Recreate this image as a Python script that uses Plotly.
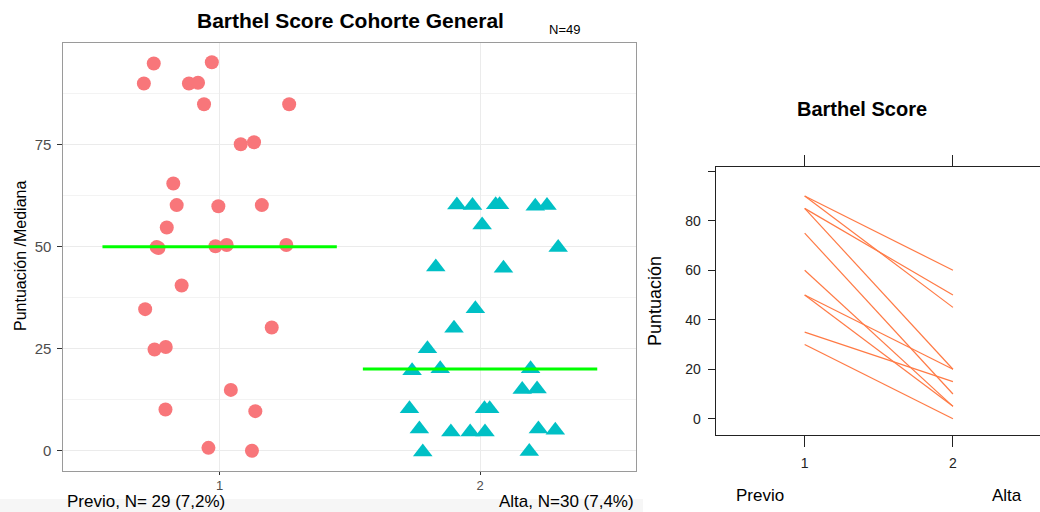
import plotly.graph_objects as go

# ---------------- data ----------------
# Left panel: jittered individual scores
previo_x = [0.747, 0.970, 0.709, 0.882, 0.917, 0.940, 1.267, 1.081, 1.132, 0.822,
            0.835, 0.995, 1.162, 0.797, 0.758, 0.765, 0.984, 1.027, 1.256, 0.854,
            0.714, 1.200, 0.750, 0.793, 1.043, 0.792, 1.137, 0.957, 1.124]
previo_y = [94.9, 95.2, 90.0, 90.0, 90.2, 84.9, 84.9, 75.1, 75.6, 65.5,
            60.2, 59.9, 60.2, 54.7, 49.9, 49.7, 50.1, 50.4, 50.4, 40.5,
            34.7, 30.2, 24.8, 25.4, 14.9, 10.1, 9.7, 0.7, 0.0]

alta_x = [1.911, 1.971, 2.060, 2.075, 2.212, 2.257, 2.008, 2.300, 1.830, 2.090,
          1.982, 1.900, 1.798, 1.739, 1.847, 2.194, 2.162, 2.219, 1.729, 2.017,
          2.037, 1.767, 1.888, 1.962, 2.019, 2.224, 2.289, 1.780, 2.189]
alta_y = [60.2, 60.1, 60.3, 60.3, 59.9, 60.1, 55.3, 49.8, 45.0, 44.7,
          34.8, 30.0, 25.0, 19.6, 20.1, 20.1, 15.0, 15.1, 10.3, 10.3,
          10.3, 5.3, 4.6, 4.6, 4.6, 5.3, 5.0, -0.3, -0.2]

median_groups = [1, 2]
median_values = [50, 20]

left_yticks = [0, 25, 50, 75]
left_xticks = [1, 2]

# Right panel: paired scores (Previo -> Alta)
pair_times = [1, 2]
pair_previo = [90, 90, 85, 85, 75, 60, 50, 50, 35, 30]
pair_alta = [60, 45, 50, 20, 10, 5, 20, 5, 15, 0]

right_yticks = [0, 20, 40, 60, 80, 100]
right_yticklabels = ["0", "20", "40", "60", "80", ""]

# ---------------- figure ----------------
W, H = 1040, 512
FONT = "Liberation Sans, Arial, sans-serif"


def pxx(x):
    return x / W


def pxy(y):
    return 1 - y / H


fig = go.Figure()

fig.add_trace(go.Scatter(
    x=previo_x, y=previo_y, mode="markers", xaxis="x", yaxis="y",
    marker=dict(symbol="circle", size=14, color="#F8767A", line=dict(width=0)),
    showlegend=False, hoverinfo="skip"))

fig.add_trace(go.Scatter(
    x=alta_x, y=alta_y, mode="markers", xaxis="x", yaxis="y",
    marker=dict(symbol="triangle-up", size=17, color="#00C0C5", line=dict(width=0)),
    showlegend=False, hoverinfo="skip"))

for g, m in zip(median_groups, median_values):
    fig.add_trace(go.Scatter(
        x=[g - 0.45, g + 0.45], y=[m, m], mode="lines", xaxis="x", yaxis="y",
        line=dict(color="#00FF00", width=3), showlegend=False, hoverinfo="skip"))

for a, b in zip(pair_previo, pair_alta):
    fig.add_trace(go.Scatter(
        x=pair_times, y=[a, b], mode="lines", xaxis="x2", yaxis="y2",
        line=dict(color="#FF7A45", width=1.2), showlegend=False, hoverinfo="skip"))

fig.update_layout(
    width=W, height=H,
    margin=dict(l=0, r=0, t=0, b=0),
    paper_bgcolor="white", plot_bgcolor="white",
    font=dict(family=FONT, color="black"),
    xaxis=dict(
        domain=[pxx(63.4), pxx(636.3)], range=[0.4, 2.6], anchor="y",
        tickvals=left_xticks, ticktext=[str(v) for v in left_xticks],
        showgrid=True, gridcolor="#EBEBEB", gridwidth=1.2, zeroline=False,
        showline=True, linecolor="#9A9A9A", linewidth=1, mirror=True,
        ticks="outside", ticklen=3, tickcolor="#333333", tickwidth=1,
        tickfont=dict(size=13, color="#4D4D4D", family=FONT), ticklabelstandoff=0),
    yaxis=dict(
        domain=[pxy(470.7), pxy(42.7)], range=[-4.9, 100], anchor="x",
        tickvals=left_yticks, ticktext=[str(v) for v in left_yticks],
        showgrid=True, gridcolor="#EBEBEB", gridwidth=1.2, zeroline=False,
        minor=dict(tickvals=[12.5, 37.5, 62.5, 87.5], showgrid=True,
                   gridcolor="#F3F3F3", gridwidth=0.7, ticks=""),
        showline=True, linecolor="#9A9A9A", linewidth=1, mirror=True,
        ticks="outside", ticklen=5, tickcolor="#333333", tickwidth=1,
        tickfont=dict(size=15, color="#4D4D4D", family=FONT), ticklabelstandoff=3),
    xaxis2=dict(
        domain=[pxx(715.7), 1.0], range=[0.4, 2.587], anchor="y2",
        tickvals=pair_times, ticktext=[str(v) for v in pair_times],
        showgrid=False, zeroline=False,
        showline=True, linecolor="#222222", linewidth=1, mirror="ticks",
        ticks="outside", ticklen=11, tickcolor="#222222", tickwidth=1,
        tickfont=dict(size=14, color="#222222", family=FONT), ticklabelstandoff=4),
    yaxis2=dict(
        domain=[pxy(435.3), pxy(167.3)], range=[-6.7, 101.6], anchor="x2",
        tickvals=right_yticks, ticktext=right_yticklabels,
        showgrid=False, zeroline=False,
        showline=True, linecolor="#222222", linewidth=1, mirror=False,
        ticks="outside", ticklen=7, tickcolor="#222222", tickwidth=1,
        tickfont=dict(size=14, color="#222222", family=FONT), ticklabelstandoff=4),
    shapes=[dict(type="rect", xref="paper", yref="paper",
                 x0=0, x1=pxx(643), y0=0, y1=pxy(499),
                 fillcolor="#F6F6F6", line=dict(width=0), layer="below")],
)

annotations = [
    dict(text="<b>Barthel Score Cohorte General</b>", x=pxx(350), y=pxy(20.7),
         font=dict(size=21, color="black")),
    dict(text="N=49", x=pxx(564), y=pxy(29.5), font=dict(size=13, color="black")),
    dict(text="Puntuación /Mediana", x=pxx(20), y=pxy(256), textangle=-90,
         font=dict(size=16, color="black")),
    dict(text="Previo, N= 29 (7,2%)", x=pxx(66), y=pxy(512), xanchor="left",
         yanchor="bottom", borderpad=0, font=dict(size=17, color="black")),
    dict(text="Alta, N=30 (7,4%)", x=pxx(635), y=pxy(512), xanchor="right",
         yanchor="bottom", borderpad=0, font=dict(size=17, color="black")),
    dict(text="<b>Barthel Score</b>", x=pxx(861.5), y=pxy(109.3),
         font=dict(size=20, color="black")),
    dict(text="Puntuación", x=pxx(655), y=pxy(301), textangle=-90,
         font=dict(size=18, color="black")),
    dict(text="Previo", x=pxx(760), y=pxy(495), font=dict(size=17, color="black")),
    dict(text="Alta", x=pxx(1006.5), y=pxy(495), font=dict(size=17, color="black")),
]
for a in annotations:
    a.setdefault("xanchor", "center")
    a.setdefault("yanchor", "middle")
    fig.add_annotation(xref="paper", yref="paper", showarrow=False,
                       font_family=FONT, **a)

fig.write_html("out.html")
